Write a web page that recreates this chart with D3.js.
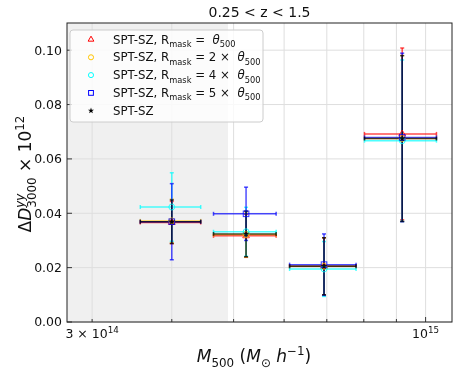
<!DOCTYPE html>
<html>
<head>
<meta charset="utf-8">
<script src="https://cdn.jsdelivr.net/npm/d3@7"></script>
<style>
body { margin: 0; background: white; }
text { font-family: "DejaVu Sans", sans-serif; white-space: pre; }
</style>
</head>
<body>
<svg id="chart" width="457" height="370"></svg>
<script>
// mass bins (shared by every series)
var massCenter = [4.0e14, 5.23e14, 6.93e14, 9.19e14];
var massLo = [3.57e14, 4.65e14, 6.12e14, 8.02e14];
var massHi = [4.44e14, 5.83e14, 7.78e14, 1.04e15];

var seriesNames = ["theta", "theta2", "theta4", "theta5", "sptsz"];
var redY = [0.0366, 0.0317, 0.0205, 0.0692];
var redErr = [0.0078, 0.0079, 0.0105, 0.0316];
var yellowY = [0.0372, 0.0322, 0.0205, 0.0675];
var yellowErr = [0.0080, 0.0083, 0.0105, 0.0305];
var cyanY = [0.0423, 0.0332, 0.0195, 0.0667];
var cyanErr = [0.0126, 0.0090, 0.0101, 0.0297];
var blueY = [0.0369, 0.0398, 0.0211, 0.0679];
var blueErr = [0.0140, 0.0098, 0.0113, 0.0310];
var blackY = [0.0369, 0.0324, 0.0205, 0.0675];
var blackErr = [0.0080, 0.0084, 0.0105, 0.0305];

var yTicks = [0, 0.02, 0.04, 0.06, 0.08, 0.10];
var xMinorTicks = [3e14, 4e14, 5e14, 6e14, 7e14, 8e14, 9e14, 1e15];
var shadeLimit = 4.9e14;

var svg = d3.select("#chart");
var margin = {left: 67, right: 5, top: 23, bottom: 48};
var W = 457, H = 370;

var x = d3.scaleLog().domain([2.74e14, 1.1e15]).range([margin.left, W - margin.right]);
var y = d3.scaleLinear().domain([0, 0.11]).range([H - margin.bottom, margin.top]);

var series = [
	{name: seriesNames[0], color: "#ff0000", marker: "tri", ys: redY, err: redErr},
	{name: seriesNames[1], color: "#ffc400", marker: "circ", ys: yellowY, err: yellowErr},
	{name: seriesNames[2], color: "#00ffff", marker: "circ", ys: cyanY, err: cyanErr},
	{name: seriesNames[3], color: "#0000ff", marker: "sq", ys: blueY, err: blueErr},
	{name: seriesNames[4], color: "#000000", marker: "star", ys: blackY, err: blackErr}
];

// rich text helper: parts = [[text, kind]], kind n|i|sub|sup|isub|isup
// "back" kinds (isupback) are stacked over the previous sub
function rich(sel, parts, size) {
	var shift = 0, lastW = 0, pendingDx = 0;
	parts.forEach(function(p) {
		var kind = p[1];
		var t = sel.append("tspan").text(p[0]);
		var target = 0;
		if (kind.indexOf("sub") >= 0) target = size * 0.3;
		if (kind.indexOf("sup") >= 0) target = -size * 0.4;
		t.attr("dy", target - shift);
		shift = target;
		t.style("font-size", (target !== 0 ? size * 0.7 : size) + "px");
		if (kind.charAt(0) === "i") t.style("font-style", "italic");
		if (kind.indexOf("back") >= 0) {
			t.attr("dx", -lastW);
			var w = t.node().getComputedTextLength();
			pendingDx = Math.max(0, lastW - w);
		} else if (pendingDx) {
			t.attr("dx", pendingDx);
			pendingDx = 0;
		}
		lastW = t.node().getComputedTextLength();
	});
}

var plot = svg.append("g");
// shaded region
plot.append("rect")
	.attr("x", x.range()[0]).attr("y", margin.top)
	.attr("width", x(shadeLimit) - x.range()[0])
	.attr("height", y(0) - margin.top)
	.attr("fill", "#f0f0f0");

// grid
plot.selectAll(".gx").data(xMinorTicks).enter().append("line")
	.attr("x1", function(d) { return x(d); }).attr("x2", function(d) { return x(d); })
	.attr("y1", margin.top).attr("y2", y(0))
	.attr("stroke", "#dedede").attr("stroke-width", 1);
plot.selectAll(".gy").data(yTicks).enter().append("line")
	.attr("x1", x.range()[0]).attr("x2", x.range()[1])
	.attr("y1", function(d) { return y(d); }).attr("y2", function(d) { return y(d); })
	.attr("stroke", "#dedede").attr("stroke-width", 1);

// error bars
var cap = 2;
series.forEach(function(s) {
	var g = plot.append("g").attr("stroke", s.color).attr("stroke-opacity", 0.7).attr("stroke-width", 1.5);
	s.ys.forEach(function(v, i) {
		var cx = x(massCenter[i]), cy = y(v);
		var y1 = y(v - s.err[i]), y2 = y(v + s.err[i]);
		var x1 = x(massLo[i]), x2 = x(massHi[i]);
		g.append("line").attr("x1", x1).attr("x2", x2).attr("y1", cy).attr("y2", cy);
		g.append("line").attr("x1", cx).attr("x2", cx).attr("y1", y1).attr("y2", y2);
		g.append("line").attr("x1", cx - cap).attr("x2", cx + cap).attr("y1", y1).attr("y2", y1);
		g.append("line").attr("x1", cx - cap).attr("x2", cx + cap).attr("y1", y2).attr("y2", y2);
		g.append("line").attr("x1", x1).attr("x2", x1).attr("y1", cy - cap).attr("y2", cy + cap);
		g.append("line").attr("x1", x2).attr("x2", x2).attr("y1", cy - cap).attr("y2", cy + cap);
	});
});

function drawMarker(g, s, cx, cy, r) {
	if (s.marker === "tri") {
		g.append("path").attr("d", d3.symbol().type(d3.symbolTriangle).size(r * r * 1.6)())
			.attr("transform", "translate(" + cx + "," + cy + ")")
			.attr("fill", "none").attr("stroke", s.color).attr("stroke-width", 1);
	} else if (s.marker === "circ") {
		g.append("circle").attr("cx", cx).attr("cy", cy).attr("r", r * 0.85)
			.attr("fill", "none").attr("stroke", s.color).attr("stroke-width", 1);
	} else if (s.marker === "sq") {
		g.append("rect").attr("x", cx - r * 0.8).attr("y", cy - r * 0.8)
			.attr("width", r * 1.6).attr("height", r * 1.6)
			.attr("fill", "none").attr("stroke", s.color).attr("stroke-width", 1);
	} else {
		g.append("path").attr("d", d3.symbol().type(d3.symbolStar).size(r * r * 1.3)())
			.attr("transform", "translate(" + cx + "," + cy + ")")
			.attr("fill", s.color);
	}
}

series.forEach(function(s) {
	var g = plot.append("g").attr("opacity", 0.8);
	s.ys.forEach(function(v, i) {
		drawMarker(g, s, x(massCenter[i]), y(v), 3.5);
	});
});

// frame
svg.append("rect")
	.attr("x", x.range()[0]).attr("y", margin.top)
	.attr("width", x.range()[1] - x.range()[0]).attr("height", y(0) - margin.top)
	.attr("fill", "none").attr("stroke", "#222").attr("stroke-width", 1);

// ticks (inward)
var ticks = svg.append("g").attr("stroke", "#222").attr("stroke-width", 0.9);
yTicks.forEach(function(d) {
	ticks.append("line").attr("x1", x.range()[0]).attr("x2", x.range()[0] + 5).attr("y1", y(d)).attr("y2", y(d));
});
xMinorTicks.forEach(function(d) {
	var len = (d === 1e15) ? 5 : 3;
	ticks.append("line").attr("x1", x(d)).attr("x2", x(d)).attr("y1", y(0)).attr("y2", y(0) - len);
});

svg.selectAll(".ylab").data(yTicks).enter().append("text")
	.attr("x", x.range()[0] - 5).attr("y", function(d) { return y(d); })
	.attr("dy", "0.35em").attr("text-anchor", "end")
	.style("font-size", "12.5px").attr("fill", "#111")
	.text(function(d) { return d3.format(".2f")(d); });

var t1 = svg.append("text").attr("x", x(3e14)).attr("y", 338).attr("text-anchor", "middle").attr("fill", "#111");
rich(t1, [["3 × 10", "n"], ["14", "sup"]], 12.5);
var t2 = svg.append("text").attr("x", x(1e15)).attr("y", 338).attr("text-anchor", "middle").attr("fill", "#111");
rich(t2, [["10", "n"], ["15", "sup"]], 12.5);

// title
svg.append("text").attr("x", (x.range()[0] + x.range()[1]) / 2).attr("y", 17)
	.attr("text-anchor", "middle").style("font-size", "14px").attr("fill", "#111")
	.text("0.25 < z < 1.5");

// axis labels
var xl = svg.append("text").attr("x", 254).attr("y", 362).attr("text-anchor", "middle").attr("fill", "#111");
rich(xl, [["M", "i"], ["500", "sub"], [" (", "n"], ["M", "i"], ["⊙", "sub"], [" h", "i"], ["−1", "sup"], [")", "n"]], 17);

var yl = svg.append("text").attr("transform", "translate(31," + 174 + ") rotate(-90)")
	.attr("text-anchor", "middle").attr("fill", "#111");
rich(yl, [["Δ", "n"], ["D", "i"], ["3000", "sub"], ["yy", "isupback"], [" × 10", "n"], ["12", "sup"]], 17);

// legend
var legendLabels = [
	[["SPT-SZ, R", "n"], ["mask", "sub"], [" =  ", "n"], ["θ", "i"], ["500", "sub"]],
	[["SPT-SZ, R", "n"], ["mask", "sub"], [" = 2 ×  ", "n"], ["θ", "i"], ["500", "sub"]],
	[["SPT-SZ, R", "n"], ["mask", "sub"], [" = 4 ×  ", "n"], ["θ", "i"], ["500", "sub"]],
	[["SPT-SZ, R", "n"], ["mask", "sub"], [" = 5 ×  ", "n"], ["θ", "i"], ["500", "sub"]],
	[["SPT-SZ", "n"]]
];
var leg = svg.append("g");
leg.append("rect").attr("x", 70).attr("y", 30).attr("width", 193).attr("height", 92)
	.attr("rx", 3).attr("fill", "white").attr("fill-opacity", 0.8)
	.attr("stroke", "#cccccc").attr("stroke-width", 1);
series.forEach(function(s, i) {
	var cy = 39.5 + i * 17.8;
	drawMarker(leg, s, 91, cy, 3);
	var t = leg.append("text").attr("x", 113).attr("y", cy + 4).attr("fill", "#111");
	rich(t, legendLabels[i], 11.8);
});
</script>
</body>
</html>
